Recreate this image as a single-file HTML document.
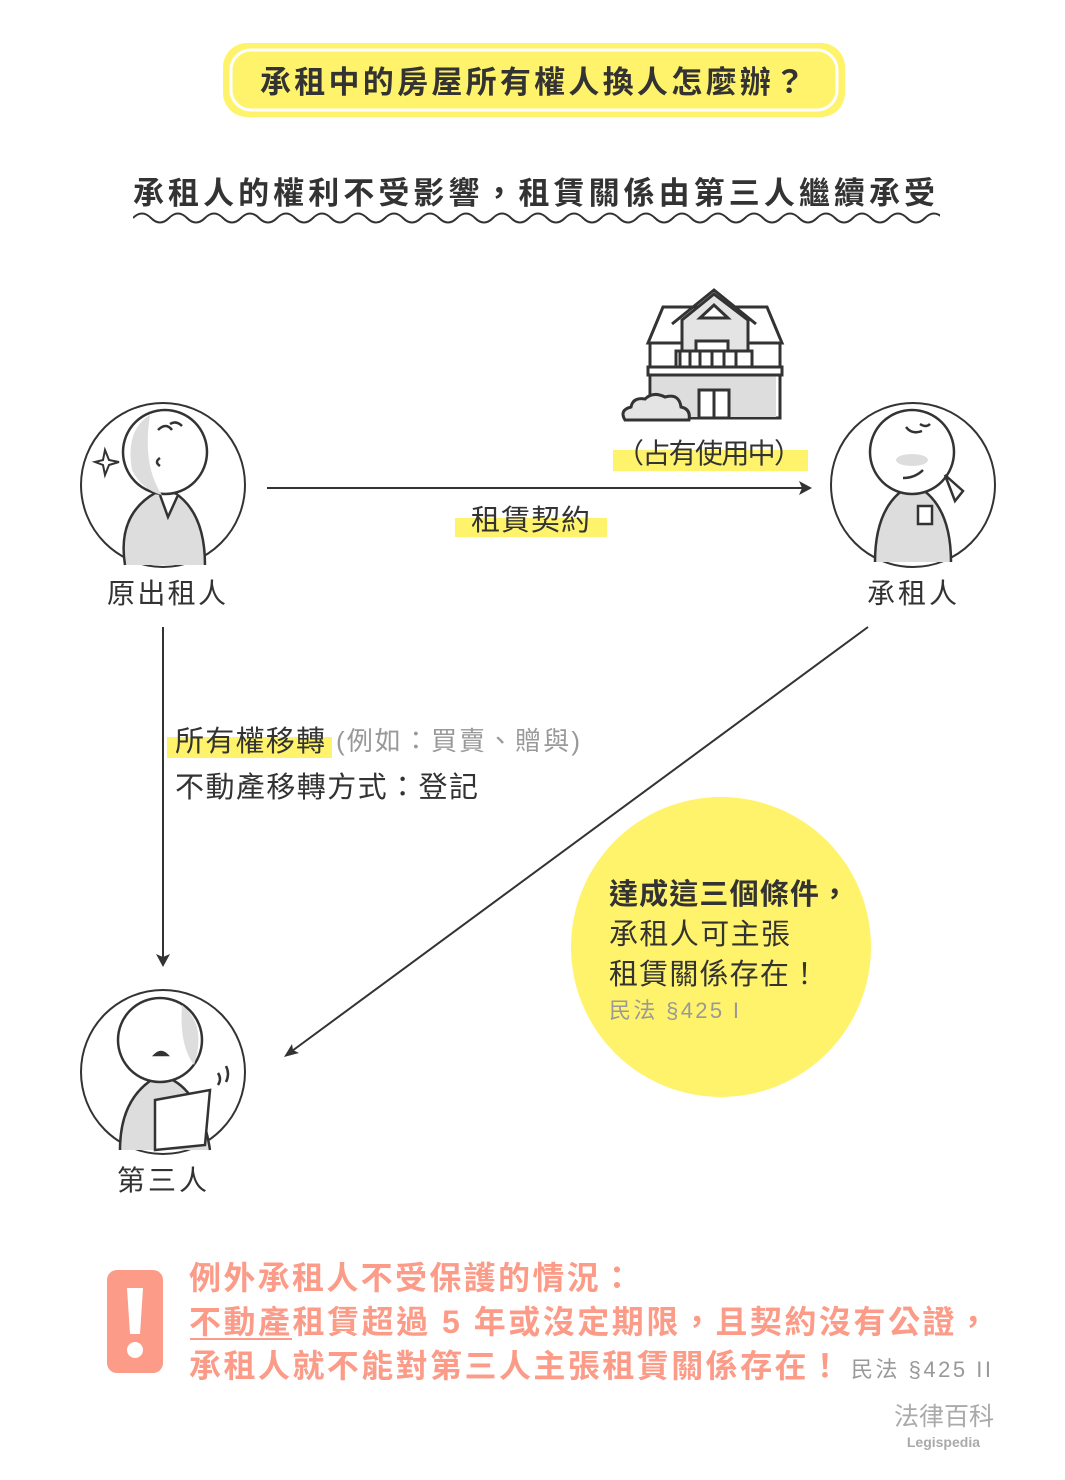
<!DOCTYPE html>
<html><head><meta charset="utf-8">
<style>
body{margin:0;background:#fff;}
svg text{font-family:"Liberation Sans","Noto Sans CJK TC",sans-serif;}
</style></head>
<body>
<svg width="1065" height="1475" viewBox="0 0 1065 1475" xmlns="http://www.w3.org/2000/svg">
<rect width="1065" height="1475" fill="#fff"/>
<defs><clipPath id="wc"><rect x="133" y="200" width="807" height="40"/></clipPath></defs>
<!-- title -->
<rect x="223" y="43" width="622" height="74" rx="24" fill="#fff36b"/>
<rect x="231" y="50" width="606" height="60" rx="20" fill="#fff36b" stroke="#fff" stroke-width="3"/>
<text x="260" y="93" font-size="31" font-weight="bold" fill="#333" textLength="545">承租中的房屋所有權人換人怎麼辦？</text>
<!-- subtitle -->
<text x="133" y="204" font-size="31" font-weight="bold" fill="#333" textLength="802">承租人的權利不受影響，租賃關係由第三人繼續承受</text>
<path clip-path="url(#wc)" fill="none" stroke="#333" stroke-width="2" d="M133,218 q9,-9 18,0 t18,0 t18,0 t18,0 t18,0 t18,0 t18,0 t18,0 t18,0 t18,0 t18,0 t18,0 t18,0 t18,0 t18,0 t18,0 t18,0 t18,0 t18,0 t18,0 t18,0 t18,0 t18,0 t18,0 t18,0 t18,0 t18,0 t18,0 t18,0 t18,0 t18,0 t18,0 t18,0 t18,0 t18,0 t18,0 t18,0 t18,0 t18,0 t18,0 t18,0 t18,0 t18,0 t18,0 t18,0"/>

<!-- house -->
<g stroke="#333" stroke-width="3" fill="#fff">
<path d="M663,307 L767,307 L782,343 L648,343 Z"/>
<rect x="650" y="343" width="130" height="75" fill="#fff"/>
<rect x="652" y="375" width="124" height="42" fill="#ddd" stroke="none"/>
<rect x="648" y="367" width="134" height="8"/>
<rect x="676" y="351" width="76" height="16" fill="#fff"/>
<path d="M680,351v16M690,351v16M700,351v16M712,351v16M724,351v16M736,351v16"/>
<path d="M682,320 L714,294 L748,320 L748,351 L682,351 Z" fill="#e4e4e4"/>
<path d="M672,324 L714,290 L756,324" fill="none"/>
<path d="M700,318 L714,305 L728,318 Z" fill="#fff"/>
<rect x="696" y="341" width="32" height="10" fill="#fff"/>
<rect x="699" y="390" width="30" height="28" fill="#fff"/>
<path d="M714,390v28"/>
<path d="M625,420 q-6,-10 6,-13 q2,-10 14,-8 q8,-8 20,-2 q14,-4 16,10 q10,2 8,13 Z" fill="#e4e4e4"/>
</g>
<rect x="613" y="450" width="195" height="21" fill="#fff36b"/>
<text x="616" y="463" font-size="28" fill="#333" textLength="186">（占有使用中）</text>

<!-- arrow top -->
<line x1="267" y1="488" x2="802" y2="488" stroke="#333" stroke-width="2"/>
<path d="M812,488 L799,481 L802,488 L799,495 Z" fill="#333"/>
<rect x="455" y="518" width="152" height="19" fill="#fff36b"/>
<text x="471" y="530" font-size="29" fill="#333" textLength="119">租賃契約</text>

<!-- circles -->
<g stroke="#333" stroke-width="2" fill="none">
<circle cx="163" cy="485" r="82"/>
<circle cx="913" cy="485" r="82"/>
<circle cx="163" cy="1072" r="82"/>
</g>
<!-- left person -->
<g stroke="#333" stroke-width="2.5">
<path d="M125,565 q-8,-50 30,-72 l20,0 q30,20 30,72" fill="#ddd"/>
<path d="M160,495 l8,22 l10,-22" fill="#fff"/>
<circle cx="165" cy="452" r="42" fill="#fff"/>
<path d="M150,415 q-25,15 -18,55 q10,20 30,25 q-20,-30 -12,-80" fill="#ddd" stroke="none"/>
<path d="M158,430 q8,-8 14,0 M170,424 q6,-4 12,2" fill="none"/>
<path d="M160,458 q-6,4 0,8" fill="none"/>
<path d="M105,450 l4,10 l10,2 l-10,3 l-4,10 l-2,-10 l-8,-3 l8,-2 Z" fill="#fff" stroke-width="2"/>
</g>
<!-- right person -->
<g stroke="#333" stroke-width="2.5">
<path d="M875,562 q0,-60 38,-78 q38,18 38,78" fill="#ddd"/>
<circle cx="912" cy="452" r="42" fill="#fff"/>
<ellipse cx="912" cy="460" rx="16" ry="6" fill="#ddd" stroke="none"/>
<path d="M906,427 q6,8 16,4 M920,424 q6,4 10,0" fill="none"/>
<path d="M903,478 q12,0 20,-8" fill="none"/>
<path d="M945,475 l18,16 l-8,10 Z" fill="#fff"/>
<rect x="918" y="506" width="14" height="18" fill="#fff"/>
</g>
<!-- bottom person -->
<g stroke="#333" stroke-width="2.5">
<path d="M120,1150 q0,-55 40,-75 q40,10 50,75" fill="#ddd"/>
<circle cx="160" cy="1040" r="42" fill="#fff"/>
<path d="M182,1005 q25,20 12,60 q-15,-20 -12,-60" fill="#ddd" stroke="none"/>
<path d="M155,1055 q6,-6 12,0 z" fill="#333"/>
<path d="M155,1100 l55,-10 l-5,55 l-50,5 Z" fill="#fff"/>
<path d="M218,1085 q4,-6 0,-12 M226,1082 q4,-8 0,-16" fill="none"/>
</g>

<text x="107" y="603" font-size="28" fill="#333" textLength="119">原出租人</text>
<text x="867" y="603" font-size="28" fill="#333" textLength="90">承租人</text>
<text x="117" y="1190" font-size="28" fill="#333" textLength="90">第三人</text>

<!-- vertical arrow -->
<line x1="163" y1="627" x2="163" y2="957" stroke="#333" stroke-width="2"/>
<path d="M163,967 L156,954 L163,957 L170,954 Z" fill="#333"/>
<rect x="167" y="737" width="165" height="21" fill="#fff36b"/>
<text x="175" y="751" font-size="29" fill="#333" textLength="150">所有權移轉</text>
<text x="336" y="750" font-size="26" fill="#999" textLength="244">(例如：買賣、贈與)</text>
<text x="175" y="797" font-size="29" fill="#333" textLength="303">不動產移轉方式：登記</text>

<!-- diagonal arrow -->
<line x1="868" y1="627" x2="292" y2="1051" stroke="#333" stroke-width="2"/>
<path d="M284,1057 L292,1044 L293,1050 L299,1053 Z" fill="#333"/>

<circle cx="721" cy="947" r="150" fill="#fff36b"/>
<text x="609" y="904" font-size="29" font-weight="bold" fill="#333" textLength="240">達成這三個條件，</text>
<text x="609" y="944" font-size="29" fill="#333" textLength="181">承租人可主張</text>
<text x="609" y="984" font-size="29" fill="#333" textLength="210">租賃關係存在！</text>
<text x="609" y="1018" font-size="22" fill="#999" textLength="130">民法 §425 I</text>

<!-- warning -->
<rect x="107" y="1270" width="56" height="103" rx="10" fill="#fc9b87"/>
<path d="M127,1288 h16 l-3,46 h-10 Z" fill="#fff"/>
<circle cx="135" cy="1350" r="8" fill="#fff"/>
<g font-size="32" font-weight="bold" fill="#fc9b87">
<text x="189" y="1289" textLength="444">例外承租人不受保護的情況：</text>
<text x="189" y="1333" textLength="800">不動產租賃超過 5 年或沒定期限，且契約沒有公證，</text>
<text x="189" y="1377" textLength="652">承租人就不能對第三人主張租賃關係存在！</text>
</g>
<line x1="190" y1="1339" x2="292" y2="1339" stroke="#fc9b87" stroke-width="2"/>
<text x="851" y="1377" font-size="22" fill="#999" textLength="140">民法 §425 II</text>
<text x="994" y="1425" font-size="25" fill="#aaa" text-anchor="end">法律百科</text>
<text x="980" y="1447" font-size="14" font-weight="bold" fill="#aaa" text-anchor="end">Legispedia</text>
</svg>
</body></html>
